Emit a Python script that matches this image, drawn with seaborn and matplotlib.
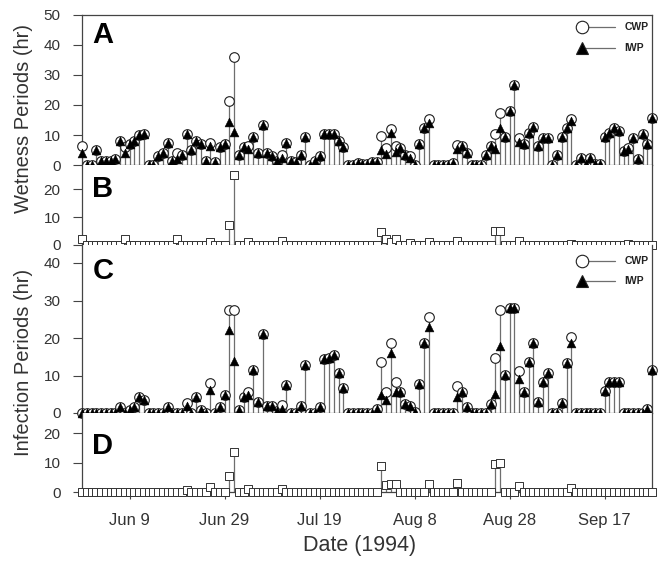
import pandas as pd
import matplotlib.pyplot as plt
import seaborn as sns

sns.set_theme(style="ticks")
plt.rcParams['font.family'] = ['Liberation Sans', 'DejaVu Sans']

# -- data: one value per day from 30 May 1994 -- #
start_date = "1994-05-30"

wet_cwp = [6.3, 0, 0, 5, 1.3, 1.3, 1.3, 2, 8, 6,
           7, 8, 10, 10.5, 0, 0, 3, 4, 7.5, 1.5,
           4, 3.5, 10.5, 5, 8, 7, 1.5, 7.5, 1, 6,
           7, 21.5, 36, 3.5, 6, 6.5, 9.5, 4, 13.5, 4,
           3, 1.5, 3.5, 7.5, 1.3, 1, 3.5, 9.5, 0, 1.5,
           3, 10.5, 10.5, 10.5, 8, 6, 0, 0, 0.8, 0.5,
           0.5, 1, 1, 9.7, 5.8, 12, 6.5, 5.8, 3.5, 3,
           0, 7, 12.2, 15.2, 0, 0, 0, 0, 0.8, 6.7,
           6.3, 4, 0, 0, 0, 3.5, 6.3, 10.4, 17.2, 9.3,
           18, 26.7, 9.1, 7, 10.8, 12.7, 6.3, 9.1, 9.1, 0,
           3.5, 9.3, 12.4, 15.2, 0, 2.5, 0.5, 2.5, 0.5, 0.2,
           9.3, 10.8, 12.4, 11.5, 4.7, 5.8, 9.1, 1.9, 10.2, 6.9, 15.8]

wet_iwp = [4, 0, 0, 5, 1.3, 1.3, 1.3, 2, 8, 4,
           7, 8, 10, 10.5, 0, 0, 3, 4, 7.5, 1.5,
           2, 3.5, 10.5, 5, 8, 7, 1.5, 6.3, 1, 6,
           7, 14.5, 11, 3.5, 6, 5.5, 9.5, 4, 13.5, 4,
           3, 1.5, 2.2, 7.5, 1.3, 1, 3.5, 9.5, 0, 1.5,
           3, 10.5, 10.5, 10.5, 8, 6, 0, 0, 0.8, 0.5,
           0.5, 1, 1, 4.9, 3.8, 10.8, 4.3, 5.8, 3.5, 2.4,
           0, 7, 12.2, 14, 0, 0, 0, 0, 0.8, 5.2,
           6.3, 4, 0, 0, 0, 3.5, 6.3, 5.4, 12.2, 9.3,
           18, 26.7, 7.6, 7, 10.8, 12.7, 6.3, 9.1, 9.1, 0,
           3.5, 9.3, 12.4, 14.7, 0, 2.5, 0.5, 2.5, 0.5, 0.2,
           9.3, 10.8, 12.4, 11.5, 4.7, 5.3, 9.1, 1.9, 10.2, 6.9, 15.8]

wet_diff = [2.3, 0, 0, 0, 0, 0, 0, 0, 0, 2,
            0, 0, 0, 0, 0, 0, 0, 0, 0, 0,
            2, 0, 0, 0, 0, 0, 0, 1.2, 0, 0,
            0, 7, 25, 0, 0, 1, 0, 0, 0, 0,
            0, 0, 1.3, 0, 0, 0, 0, 0, 0, 0,
            0, 0, 0, 0, 0, 0, 0, 0, 0, 0,
            0, 0, 0, 4.8, 2, 1.2, 2.2, 0, 0, 0.6,
            0, 0, 0, 1.2, 0, 0, 0, 0, 0, 1.5,
            0, 0, 0, 0, 0, 0, 0, 5, 5, 0,
            0, 0, 1.5, 0, 0, 0, 0, 0, 0, 0,
            0, 0, 0, 0.5, 0, 0, 0, 0, 0, 0,
            0, 0, 0, 0, 0, 0.5, 0, 0, 0, 0, 0]

inf_cwp = [0, 0, 0, 0, 0, 0, 0, 0, 1.7, 0,
           0.8, 1.7, 4.2, 3.5, 0, 0, 0, 0, 1.7, 0,
           0, 0, 2.6, 0, 4.4, 0.8, 0, 7.9, 0, 1.7,
           4.8, 27.6, 27.6, 0.8, 4.4, 5.7, 11.5, 3, 21.2, 2,
           2, 0.5, 2.2, 7.5, 0, 0, 2, 12.8, 0, 0,
           1.7, 14.4, 14.6, 15.5, 10.8, 6.6, 0, 0, 0, 0,
           0, 0, 1, 13.7, 5.7, 18.8, 8.4, 5.7, 2.4, 2,
           0.4, 7.7, 18.8, 25.7, 0, 0, 0, 0, 0, 7.3,
           5.7, 1.7, 0, 0, 0, 0, 2.4, 14.8, 27.6, 10.1,
           27.9, 27.9, 11.3, 5.7, 13.7, 18.6, 3, 8.4, 10.8, 0,
           0, 2.8, 13.4, 20.2, 0, 0, 0, 0, 0, 0,
           6, 8.4, 8.4, 8.4, 0, 0, 0, 0, 0, 1.2, 11.6]

inf_iwp = [0, 0, 0, 0, 0, 0, 0, 0, 1.7, 0,
           0.8, 1.7, 4.2, 3.5, 0, 0, 0, 0, 1.7, 0,
           0, 0, 2, 0, 4.4, 0.8, 0, 6.2, 0, 1.7,
           4.8, 22.2, 14, 0.8, 4.4, 4.7, 11.5, 3, 21.2, 2,
           2, 0.5, 1.1, 7.5, 0, 0, 2, 12.8, 0, 0,
           1.7, 14.4, 14.6, 15.5, 10.8, 6.6, 0, 0, 0, 0,
           0, 0, 1, 4.8, 3.4, 16, 5.6, 5.7, 2.4, 2,
           0.4, 7.7, 18.8, 23, 0, 0, 0, 0, 0, 4.4,
           5.7, 1.7, 0, 0, 0, 0, 2.4, 5.2, 17.9, 10.1,
           27.9, 27.9, 9.1, 5.7, 13.7, 18.6, 3, 8.4, 10.8, 0,
           0, 2.8, 13.4, 18.7, 0, 0, 0, 0, 0, 0,
           6, 8.4, 8.4, 8.4, 0, 0, 0, 0, 0, 1.2, 11.6]

inf_diff = [0, 0, 0, 0, 0, 0, 0, 0, 0, 0,
            0, 0, 0, 0, 0, 0, 0, 0, 0, 0,
            0, 0, 0.6, 0, 0, 0, 0, 1.7, 0, 0,
            0, 5.4, 13.6, 0, 0, 1, 0, 0, 0, 0,
            0, 0, 1.1, 0, 0, 0, 0, 0, 0, 0,
            0, 0, 0, 0, 0, 0, 0, 0, 0, 0,
            0, 0, 0, 8.9, 2.3, 2.8, 2.8, 0, 0, 0,
            0, 0, 0, 2.7, 0, 0, 0, 0, 0, 2.9,
            0, 0, 0, 0, 0, 0, 0, 9.6, 9.7, 0,
            0, 0, 2.2, 0, 0, 0, 0, 0, 0, 0,
            0, 0, 0, 1.5, 0, 0, 0, 0, 0, 0,
            0, 0, 0, 0, 0, 0, 0, 0, 0, 0, 0]

tick_dates = ["1994-06-09", "1994-06-29", "1994-07-19",
              "1994-08-08", "1994-08-28", "1994-09-17"]
tick_labels = ["Jun 9", "Jun 29", "Jul 19", "Aug 8", "Aug 28", "Sep 17"]

dates = pd.date_range(start_date, periods=len(wet_cwp), freq="D")
wet = pd.DataFrame({"date": dates, "cwp": wet_cwp, "iwp": wet_iwp, "diff": wet_diff})
inf = pd.DataFrame({"date": dates, "cwp": inf_cwp, "iwp": inf_iwp, "diff": inf_diff})

STEM = "#6e6e6e"
EDGE = "#1e1e1e"
AXC = "#444444"

W, H = 669, 566
fig = plt.figure(figsize=(W / 100, H / 100), dpi=100)


def panel(top_px, bottom_px):
    return fig.add_axes([82 / W, 1 - bottom_px / H, 570 / W, (bottom_px - top_px) / H])


ax_a = panel(15, 165)
ax_b = panel(165, 245)
ax_c = panel(245, 413)
ax_d = panel(413, 492)


def pair_panel(ax, df):
    ax.vlines(df["date"], 0, df["cwp"], colors=STEM, lw=0.9, zorder=1)
    sns.scatterplot(data=df, x="date", y="cwp", marker="o", s=48, color="white",
                    edgecolor=EDGE, linewidth=0.8, ax=ax, zorder=3, clip_on=False)
    sns.scatterplot(data=df, x="date", y="iwp", marker="^", s=40, color="black",
                    edgecolor="black", linewidth=0.4, ax=ax, zorder=4, clip_on=False)


def diff_panel(ax, df):
    ax.vlines(df["date"], 0, df["diff"], colors=STEM, lw=0.9, zorder=1)
    sns.scatterplot(data=df, x="date", y="diff", marker="s", s=38, color="white",
                    edgecolor="#333333", linewidth=0.7, ax=ax, zorder=3, clip_on=False)


def legend_box(ax, y1, y2):
    # marker on the left end of a short line, label to the right
    for y, mk, fc, lab in [(y1, "o", "white", "CWP"), (y2, "^", "black", "IWP")]:
        ax.plot([0.877, 0.935], [y, y], color=STEM, lw=0.9, transform=ax.transAxes,
                clip_on=False, zorder=5)
        ax.plot([0.877], [y], marker=mk, ms=9 if mk == "o" else 8, mfc=fc,
                mec=EDGE, mew=0.8, ls="", transform=ax.transAxes, clip_on=False, zorder=6)
        ax.text(0.952, y, lab, transform=ax.transAxes, fontsize=7.5, fontweight="bold",
                va="center", ha="left", color="#222222")


pair_panel(ax_a, wet)
diff_panel(ax_b, wet)
pair_panel(ax_c, inf)
diff_panel(ax_d, inf)

legend_box(ax_a, 0.918, 0.78)
legend_box(ax_c, 0.906, 0.787)

limits = {ax_a: ((0, 50), range(0, 51, 10)),
          ax_b: ((0, 28.6), [0, 10, 20]),
          ax_c: ((0, 44.8), range(0, 41, 10)),
          ax_d: ((0, 26.8), [0, 10, 20])}

for ax, (ylim, yt) in limits.items():
    ax.set_xlim(dates[0], dates[-1])
    ax.set_ylim(ylim)
    ax.set_yticks(list(yt))
    ax.set_xlabel("")
    ax.set_ylabel("")
    for s in ax.spines.values():
        s.set_color(AXC)
        s.set_linewidth(0.9)
    ax.spines["top"].set_visible(ax is ax_a)
    ax.tick_params(axis="y", direction="out", length=6.5, width=0.8, color=AXC,
                   labelsize=11, labelcolor="#333333", pad=9)
    ax.tick_params(axis="x", bottom=False, labelbottom=False)

ax_d.set_xticks(pd.to_datetime(tick_dates))
ax_d.set_xticklabels(tick_labels)
ax_d.tick_params(axis="x", bottom=True, labelbottom=True, direction="out", length=5,
                 width=0.8, color=AXC, labelsize=12, labelcolor="#333333", pad=10)

for ax, lab, yb in [(ax_a, "A", 0.811), (ax_b, "B", 0.6), (ax_c, "C", 0.798), (ax_d, "D", 0.48)]:
    ax.text(0.018, yb, lab, transform=ax.transAxes, fontsize=21, fontweight="bold",
            va="baseline", ha="left", color="black")

fig.text(24 / W, 1 - 119 / H, "Wetness Periods (hr)", rotation=90, ha="center",
         va="center", fontsize=14.5, color="#333333")
fig.text(24 / W, 1 - 362 / H, "Infection Periods (hr)", rotation=90, ha="center",
         va="center", fontsize=14.5, color="#333333")
fig.text(360 / W, 1 - 545 / H, "Date (1994)", ha="center", va="center",
         fontsize=15.5, color="#333333")

fig.savefig("out.png", dpi=100)
plt.close()
